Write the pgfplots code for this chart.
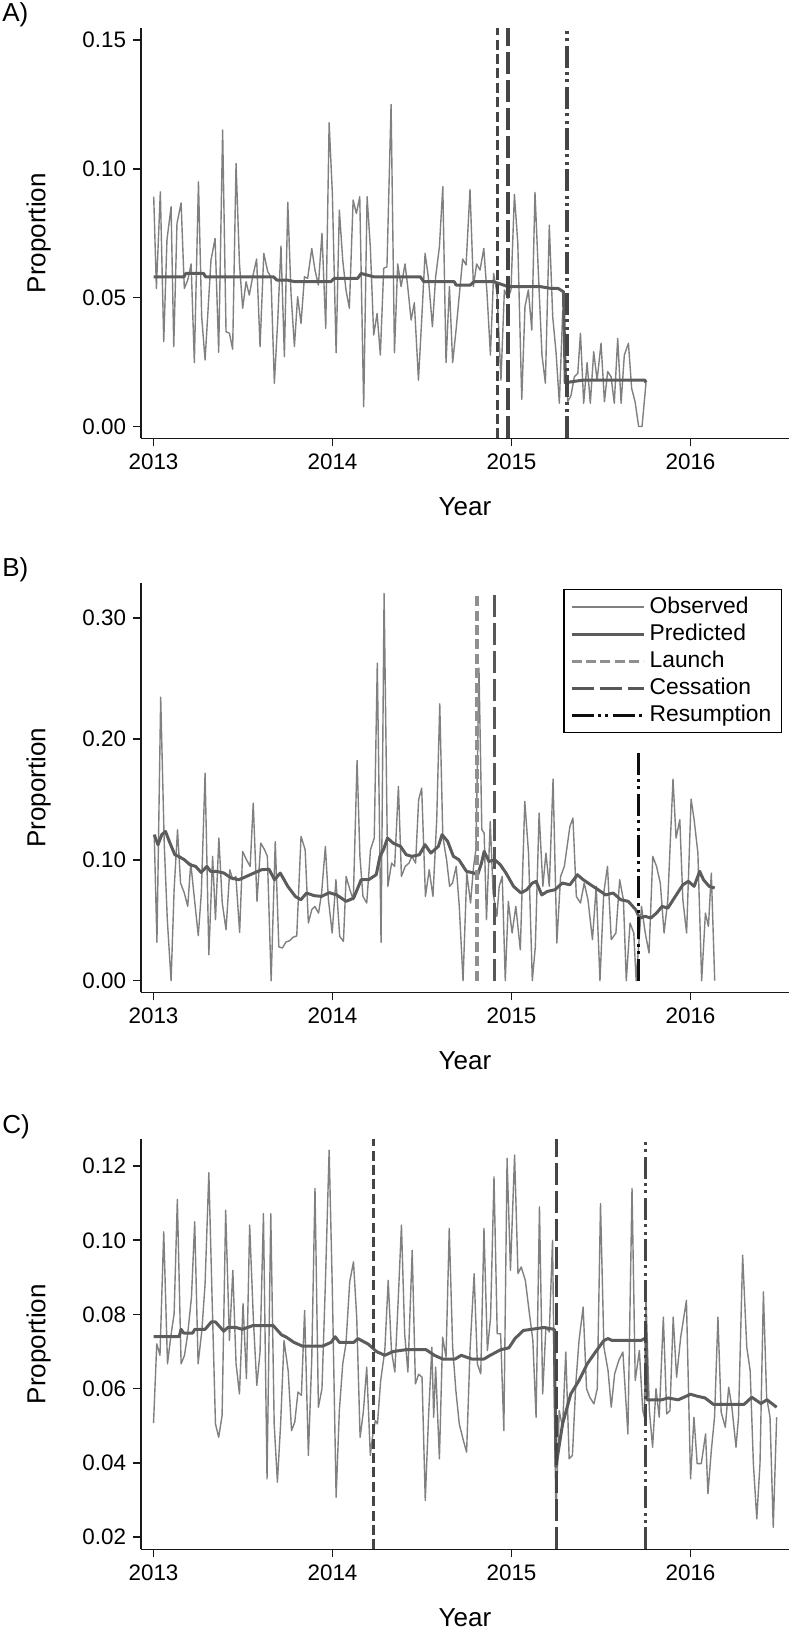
\documentclass[border=0pt]{standalone}
\usepackage{fontspec}
\setmainfont{Liberation Sans}
\usepackage{pgfplots}
\usepackage{pgfplotstable}
\pgfplotsset{compat=1.18}

\definecolor{obs}{gray}{0.50}
\definecolor{pred}{gray}{0.36}
\definecolor{vline}{gray}{0.27}
\definecolor{launchB}{gray}{0.56}
\definecolor{cessB}{gray}{0.34}
\definecolor{resB}{gray}{0.05}

\pgfplotsset{
 panel/.style={
  scale only axis, width=324pt,
  xmin=2012.930, xmax=2016.550,
  axis lines*=left,
  axis line style={line width=0.8pt, black!90},
  tick align=outside, major tick length=4pt,
  tick style={line width=0.8pt, black!90},
  xtick={2013,2014,2015,2016}, xticklabels={2013,2014,2015,2016},
  /pgf/number format/assume math mode=true,
  yticklabel style={/pgf/number format/.cd, fixed, fixed zerofill, precision=2},
  ticklabel style={font=\fontsize{11.2}{13}\selectfont},
  xlabel={Year}, ylabel={Proportion},
  every axis x label/.style={at={(axis description cs:0.5,0)}, anchor=center, yshift=-34pt, font=\fontsize{13}{15}\selectfont},
  every axis y label/.style={at={(axis description cs:-0.158,0.5)}, anchor=center, rotate=90, font=\fontsize{13}{15}\selectfont},
  legend image code/.code={\draw[#1] (0pt,0pt) -- (36pt,0pt);},
 },
 obsstyle/.style={color=obs, line width=0.7pt, line join=round},
 predstyle/.style={color=pred, line width=1.5pt, line join=round},
 launchstyle/.style={line width=1.6pt, dash pattern=on 5pt off 2.2pt},
 cessstyle/.style={line width=1.6pt, dash pattern=on 11pt off 3pt},
 resstyle/.style={line width=1.6pt, dash pattern=on 11pt off 2.2pt on 1.5pt off 2.2pt on 1.5pt off 2.2pt},
}

% ---------------- Panel A ----------------
\pgfplotstableread{
x y
2013.001 0.0892
2013.016 0.0536
2013.038 0.0911
2013.057 0.0329
2013.075 0.0724
2013.098 0.0853
2013.113 0.0310
2013.131 0.0788
2013.154 0.0868
2013.172 0.0536
2013.191 0.0568
2013.210 0.0631
2013.228 0.0248
2013.251 0.0950
2013.269 0.0426
2013.288 0.0258
2013.321 0.0646
2013.344 0.0730
2013.364 0.0288
2013.386 0.1151
2013.405 0.0368
2013.424 0.0362
2013.442 0.0300
2013.461 0.1021
2013.480 0.0633
2013.498 0.0459
2013.517 0.0562
2013.535 0.0510
2013.554 0.0581
2013.576 0.0650
2013.595 0.0310
2013.616 0.0672
2013.638 0.0601
2013.656 0.0581
2013.675 0.0168
2013.694 0.0413
2013.712 0.0700
2013.731 0.0271
2013.750 0.0870
2013.768 0.0517
2013.787 0.0310
2013.805 0.0504
2013.824 0.0400
2013.843 0.0581
2013.861 0.0575
2013.884 0.0691
2013.902 0.0607
2013.921 0.0549
2013.941 0.0750
2013.962 0.0381
2013.981 0.1179
2013.999 0.0905
2014.020 0.0286
2014.038 0.0840
2014.057 0.0646
2014.075 0.0530
2014.094 0.0459
2014.115 0.0879
2014.133 0.0827
2014.152 0.0892
2014.174 0.0077
2014.193 0.0892
2014.211 0.0698
2014.230 0.0355
2014.249 0.0439
2014.267 0.0277
2014.286 0.0614
2014.304 0.0620
2014.327 0.1250
2014.346 0.0286
2014.364 0.0631
2014.383 0.0543
2014.405 0.0631
2014.420 0.0543
2014.439 0.0413
2014.457 0.0480
2014.480 0.0180
2014.498 0.0413
2014.517 0.0672
2014.535 0.0581
2014.558 0.0387
2014.576 0.0581
2014.597 0.0698
2014.616 0.0931
2014.634 0.0248
2014.653 0.0543
2014.671 0.0248
2014.690 0.0374
2014.709 0.0517
2014.727 0.0650
2014.746 0.0627
2014.768 0.0920
2014.787 0.0543
2014.805 0.0631
2014.824 0.0607
2014.845 0.0691
2014.863 0.0517
2014.882 0.0277
2014.900 0.0594
2014.919 0.0517
2014.941 0.0180
2014.960 0.0530
2014.979 0.0497
2014.997 0.0530
2015.016 0.0901
2015.035 0.0711
2015.057 0.0105
2015.075 0.0465
2015.094 0.0530
2015.113 0.0374
2015.131 0.0909
2015.150 0.0594
2015.170 0.0277
2015.189 0.0168
2015.211 0.0782
2015.230 0.0426
2015.249 0.0284
2015.267 0.0090
2015.286 0.0450
2015.314 0.0096
2015.332 0.0120
2015.351 0.0193
2015.370 0.0206
2015.385 0.0362
2015.403 0.0090
2015.422 0.0248
2015.440 0.0090
2015.459 0.0290
2015.478 0.0180
2015.500 0.0323
2015.519 0.0096
2015.537 0.0213
2015.556 0.0193
2015.574 0.0090
2015.593 0.0342
2015.612 0.0090
2015.630 0.0277
2015.653 0.0323
2015.671 0.0148
2015.690 0.0096
2015.710 0.0000
2015.729 0.0000
2015.751 0.0168
}\obsA

\pgfplotstableread{
x y
2013.000 0.0581
2013.170 0.0581
2013.180 0.0594
2013.280 0.0594
2013.290 0.0581
2013.670 0.0581
2013.690 0.0568
2013.750 0.0568
2013.790 0.0562
2013.990 0.0562
2014.010 0.0575
2014.140 0.0575
2014.160 0.0594
2014.230 0.0581
2014.490 0.0581
2014.510 0.0562
2014.680 0.0562
2014.690 0.0549
2014.770 0.0549
2014.790 0.0562
2014.900 0.0562
2014.980 0.0543
2015.160 0.0543
2015.220 0.0536
2015.260 0.0536
2015.290 0.0523
2015.300 0.0170
2015.400 0.0180
2015.745 0.0180
2015.751 0.0170
}\predA

% ---------------- Panel B ----------------
\pgfplotstableread{
x y
2013.004 0.1207
2013.019 0.0317
2013.040 0.2344
2013.060 0.1124
2013.077 0.0504
2013.098 0.0000
2013.115 0.0752
2013.134 0.1248
2013.151 0.0807
2013.172 0.0725
2013.191 0.0614
2013.208 0.0972
2013.229 0.0669
2013.250 0.0372
2013.267 0.0725
2013.288 0.1716
2013.309 0.0215
2013.330 0.1028
2013.346 0.0504
2013.365 0.1179
2013.384 0.0642
2013.405 0.0421
2013.426 0.0917
2013.443 0.0835
2013.460 0.0862
2013.481 0.0399
2013.498 0.1069
2013.519 0.1000
2013.540 0.0945
2013.557 0.1468
2013.578 0.0656
2013.599 0.1138
2013.620 0.1083
2013.636 0.1028
2013.657 0.0000
2013.680 0.1150
2013.700 0.0280
2013.720 0.0270
2013.740 0.0320
2013.760 0.0330
2013.780 0.0360
2013.800 0.0370
2013.824 0.1193
2013.847 0.1083
2013.865 0.0477
2013.884 0.0587
2013.901 0.0614
2013.922 0.0559
2013.939 0.0725
2013.960 0.1110
2013.977 0.0669
2013.998 0.0394
2014.019 0.0835
2014.040 0.0366
2014.061 0.0325
2014.076 0.0862
2014.097 0.0752
2014.116 0.0669
2014.137 0.1821
2014.153 0.1028
2014.170 0.0697
2014.191 0.0642
2014.212 0.1083
2014.233 0.1179
2014.250 0.2626
2014.271 0.0317
2014.288 0.3200
2014.309 0.0780
2014.330 0.0972
2014.347 0.0945
2014.368 0.1606
2014.385 0.0862
2014.406 0.0945
2014.427 0.0972
2014.443 0.1028
2014.464 0.0972
2014.481 0.1496
2014.498 0.1592
2014.519 0.0697
2014.540 0.0917
2014.561 0.0697
2014.582 0.1331
2014.599 0.2289
2014.616 0.1193
2014.637 0.1000
2014.654 0.0780
2014.670 0.0807
2014.691 0.0945
2014.708 0.0614
2014.729 0.0000
2014.750 0.0890
2014.771 0.0642
2014.788 0.0945
2014.801 0.1083
2014.818 0.2584
2014.834 0.1248
2014.847 0.1220
2014.860 0.0504
2014.881 0.1317
2014.897 0.0725
2014.918 0.0532
2014.931 0.0780
2014.948 0.0862
2014.965 0.0000
2014.982 0.0656
2015.003 0.0394
2015.024 0.0614
2015.049 0.0256
2015.074 0.1482
2015.095 0.1055
2015.116 0.0000
2015.133 0.0284
2015.154 0.1386
2015.175 0.0780
2015.192 0.1055
2015.211 0.0780
2015.232 0.1667
2015.253 0.0311
2015.274 0.0862
2015.295 0.0945
2015.326 0.1275
2015.343 0.1344
2015.362 0.0697
2015.385 0.0642
2015.406 0.0807
2015.427 0.0669
2015.452 0.0339
2015.473 0.0780
2015.494 0.0000
2015.515 0.0725
2015.536 0.0945
2015.557 0.0339
2015.583 0.0394
2015.604 0.0835
2015.625 0.0669
2015.641 0.0000
2015.662 0.0477
2015.683 0.0394
2015.696 0.0000
2015.726 0.0614
2015.747 0.0394
2015.768 0.0229
2015.789 0.1028
2015.810 0.0945
2015.831 0.0807
2015.852 0.0394
2015.873 0.0669
2015.902 0.1667
2015.919 0.1179
2015.940 0.1331
2015.957 0.0669
2015.978 0.0394
2016.003 0.1501
2016.020 0.1331
2016.041 0.1055
2016.062 0.0000
2016.083 0.0559
2016.100 0.0449
2016.116 0.0890
2016.135 0.0000
}\obsB

\pgfplotstableread{
x y
2013.004 0.1207
2013.025 0.1124
2013.046 0.1207
2013.067 0.1234
2013.088 0.1152
2013.119 0.1041
2013.140 0.1028
2013.172 0.1000
2013.203 0.0959
2013.235 0.0945
2013.266 0.0895
2013.298 0.0945
2013.319 0.0904
2013.351 0.0904
2013.393 0.0890
2013.435 0.0848
2013.477 0.0835
2013.519 0.0862
2013.561 0.0890
2013.603 0.0917
2013.645 0.0922
2013.676 0.0835
2013.708 0.0890
2013.750 0.0780
2013.792 0.0697
2013.823 0.0669
2013.855 0.0725
2013.897 0.0703
2013.939 0.0697
2013.981 0.0728
2014.023 0.0709
2014.076 0.0656
2014.118 0.0683
2014.160 0.0835
2014.202 0.0835
2014.244 0.0876
2014.265 0.1028
2014.286 0.1088
2014.307 0.1179
2014.338 0.1138
2014.380 0.1110
2014.412 0.1041
2014.443 0.1028
2014.485 0.1041
2014.517 0.1124
2014.549 0.1055
2014.591 0.1110
2014.612 0.1207
2014.643 0.1152
2014.675 0.1028
2014.706 0.1000
2014.748 0.0904
2014.790 0.0890
2014.811 0.0876
2014.832 0.0972
2014.847 0.1069
2014.874 0.0986
2014.906 0.1000
2014.937 0.0959
2014.969 0.0890
2015.011 0.0780
2015.053 0.0725
2015.085 0.0752
2015.116 0.0807
2015.137 0.0821
2015.169 0.0709
2015.200 0.0738
2015.242 0.0752
2015.284 0.0807
2015.326 0.0793
2015.368 0.0876
2015.400 0.0835
2015.442 0.0793
2015.484 0.0752
2015.526 0.0709
2015.568 0.0725
2015.610 0.0669
2015.652 0.0656
2015.694 0.0587
2015.715 0.0518
2015.747 0.0532
2015.778 0.0518
2015.810 0.0559
2015.841 0.0614
2015.873 0.0600
2015.915 0.0697
2015.957 0.0793
2015.988 0.0821
2016.020 0.0780
2016.051 0.0904
2016.072 0.0835
2016.104 0.0780
2016.135 0.0766
}\predB

% ---------------- Panel C ----------------
\pgfplotstableread{
x y
2013.000 0.0507
2013.018 0.0721
2013.036 0.0690
2013.057 0.1023
2013.078 0.0667
2013.096 0.0739
2013.115 0.0802
2013.133 0.1110
2013.154 0.0667
2013.173 0.0690
2013.191 0.0748
2013.212 0.0847
2013.230 0.1050
2013.249 0.0667
2013.270 0.0757
2013.288 0.0883
2013.309 0.1182
2013.327 0.0847
2013.346 0.0505
2013.364 0.0469
2013.383 0.0528
2013.403 0.1081
2013.424 0.0730
2013.443 0.0919
2013.461 0.0667
2013.480 0.0586
2013.500 0.0829
2013.519 0.0627
2013.537 0.1041
2013.558 0.0784
2013.577 0.0609
2013.595 0.0699
2013.614 0.1072
2013.634 0.0357
2013.655 0.1072
2013.674 0.0505
2013.692 0.0348
2013.710 0.0505
2013.729 0.0730
2013.752 0.0649
2013.771 0.0487
2013.789 0.0510
2013.807 0.0591
2013.826 0.0582
2013.844 0.0811
2013.865 0.0420
2013.884 0.0681
2013.902 0.1140
2013.921 0.0550
2013.941 0.0600
2013.960 0.0883
2013.981 0.1243
2013.999 0.0865
2014.020 0.0307
2014.038 0.0541
2014.057 0.0667
2014.075 0.0721
2014.096 0.0888
2014.117 0.0942
2014.135 0.0793
2014.154 0.0469
2014.172 0.0537
2014.191 0.0658
2014.211 0.0420
2014.223 0.0469
2014.239 0.0514
2014.251 0.0505
2014.269 0.0622
2014.292 0.0703
2014.311 0.0892
2014.329 0.0703
2014.348 0.0645
2014.366 0.0829
2014.385 0.1041
2014.403 0.0748
2014.421 0.0645
2014.445 0.0973
2014.463 0.0613
2014.481 0.0639
2014.500 0.0631
2014.518 0.0299
2014.537 0.0532
2014.555 0.0712
2014.565 0.0523
2014.576 0.0658
2014.597 0.0411
2014.615 0.0739
2014.634 0.0685
2014.652 0.1032
2014.671 0.0712
2014.689 0.0595
2014.708 0.0505
2014.731 0.0460
2014.749 0.0429
2014.768 0.0703
2014.791 0.0910
2014.809 0.0667
2014.828 0.0640
2014.846 0.1032
2014.865 0.0703
2014.883 0.0793
2014.902 0.1171
2014.920 0.0748
2014.939 0.0748
2014.957 0.0487
2014.975 0.1221
2014.994 0.0919
2015.017 0.1230
2015.036 0.0910
2015.054 0.0928
2015.077 0.0892
2015.100 0.0802
2015.119 0.0730
2015.137 0.0523
2015.156 0.1090
2015.174 0.0586
2015.192 0.0766
2015.211 0.0753
2015.229 0.1000
2015.248 0.0250
2015.266 0.0541
2015.285 0.0496
2015.303 0.0699
2015.322 0.0411
2015.340 0.0420
2015.359 0.0613
2015.377 0.0730
2015.400 0.0820
2015.419 0.0600
2015.437 0.0577
2015.460 0.0559
2015.479 0.0600
2015.497 0.1099
2015.516 0.0712
2015.539 0.0649
2015.557 0.0550
2015.576 0.0640
2015.599 0.0676
2015.622 0.0699
2015.650 0.0478
2015.673 0.1140
2015.691 0.0622
2015.714 0.0703
2015.733 0.0541
2015.742 0.0523
2015.751 0.0847
2015.770 0.0541
2015.788 0.0442
2015.807 0.0600
2015.825 0.0523
2015.848 0.0793
2015.867 0.0532
2015.885 0.0541
2015.903 0.0793
2015.922 0.0631
2015.945 0.0739
2015.977 0.0838
2016.000 0.0357
2016.019 0.0523
2016.037 0.0398
2016.060 0.0398
2016.084 0.0478
2016.097 0.0317
2016.116 0.0433
2016.134 0.0523
2016.153 0.0793
2016.171 0.0537
2016.194 0.0496
2016.213 0.0604
2016.231 0.0550
2016.254 0.0442
2016.268 0.0523
2016.291 0.0960
2016.314 0.0712
2016.333 0.0649
2016.351 0.0398
2016.370 0.0249
2016.388 0.0398
2016.407 0.0861
2016.425 0.0577
2016.444 0.0523
2016.462 0.0226
2016.481 0.0523
}\obsC

\pgfplotstableread{
x y
2013.000 0.0740
2013.143 0.0740
2013.154 0.0760
2013.168 0.0750
2013.219 0.0750
2013.230 0.0760
2013.288 0.0760
2013.323 0.0780
2013.346 0.0780
2013.392 0.0755
2013.415 0.0765
2013.461 0.0765
2013.496 0.0760
2013.554 0.0770
2013.669 0.0770
2013.715 0.0745
2013.738 0.0740
2013.784 0.0725
2013.830 0.0715
2013.946 0.0715
2013.992 0.0725
2014.015 0.0740
2014.038 0.0725
2014.119 0.0725
2014.142 0.0735
2014.200 0.0720
2014.246 0.0700
2014.292 0.0690
2014.338 0.0700
2014.408 0.0705
2014.523 0.0705
2014.569 0.0690
2014.615 0.0680
2014.685 0.0680
2014.719 0.0690
2014.777 0.0680
2014.846 0.0680
2014.881 0.0690
2014.939 0.0705
2014.985 0.0710
2015.019 0.0735
2015.066 0.0757
2015.112 0.0760
2015.181 0.0765
2015.239 0.0760
2015.248 0.0390
2015.285 0.0505
2015.331 0.0586
2015.377 0.0622
2015.423 0.0667
2015.469 0.0699
2015.516 0.0730
2015.539 0.0735
2015.562 0.0730
2015.724 0.0730
2015.742 0.0735
2015.751 0.0735
2015.756 0.0570
2015.839 0.0570
2015.874 0.0575
2015.931 0.0570
2016.000 0.0585
2016.035 0.0580
2016.081 0.0575
2016.127 0.0558
2016.300 0.0558
2016.342 0.0577
2016.393 0.0560
2016.427 0.0570
2016.481 0.0550
}\predC

\begin{document}
\begin{tikzpicture}
\useasboundingbox (0,0) rectangle (394.5pt,-816pt);

% ---------- A ----------
\begin{axis}[panel, at={(70.5pt,-14pt)}, anchor=north west, height=205.15pt,
  ymin=-0.0046, ymax=0.1547, ytick={0,0.05,0.10,0.15}]
\addplot[obsstyle] table[x=x,y=y] {\obsA};
\addplot[predstyle] table[x=x,y=y] {\predA};
\addplot[launchstyle, color=vline] coordinates {(2014.921,-0.0046) (2014.921,0.1547)};
\addplot[cessstyle, color=vline] coordinates {(2014.980,-0.0046) (2014.980,0.1547)};
\addplot[resstyle, color=vline] coordinates {(2015.310,-0.0046) (2015.310,0.1547)};
\end{axis}
\node[anchor=west, inner sep=0pt, font=\fontsize{13}{15}\selectfont] at (1pt,-7.5pt) {A)};

% ---------- B ----------
\begin{axis}[panel, at={(70.5pt,-291.35pt)}, anchor=north west, height=204.8pt,
  ymin=-0.0096, ymax=0.329, ytick={0,0.1,0.2,0.3},
  legend cell align=left,
  legend style={at={(axis description cs:0.9897,0.9846)}, anchor=north east,
    draw=black, fill=white, line width=0.6pt,
    font=\fontsize{11.4}{13.5}\selectfont,
    inner xsep=3pt, inner ysep=2pt, row sep=0pt,
    nodes={inner xsep=2.2pt, inner ysep=1pt, text height=8.8pt, text depth=2.7pt}}]
\addplot[obsstyle] table[x=x,y=y] {\obsB};
\addlegendentry{Observed}
\addplot[predstyle] table[x=x,y=y] {\predB};
\addlegendentry{Predicted}
\addplot[launchstyle, color=launchB] coordinates {(2014.807,0) (2014.807,0.320)};
\addlegendentry{Launch}
\addplot[cessstyle, color=cessB] coordinates {(2014.904,0) (2014.904,0.320)};
\addlegendentry{Cessation}
\addplot[resstyle, color=resB] coordinates {(2015.708,0) (2015.708,0.189)};
\addlegendentry{Resumption}
\end{axis}
\node[anchor=west, inner sep=0pt, font=\fontsize{13}{15}\selectfont] at (1pt,-285pt) {B)};

% ---------- C ----------
\begin{axis}[panel, at={(70.5pt,-569.5pt)}, anchor=north west, height=205.15pt,
  ymin=0.0167, ymax=0.1273, ytick={0.02,0.04,0.06,0.08,0.10,0.12}]
\addplot[obsstyle] table[x=x,y=y] {\obsC};
\addplot[predstyle] table[x=x,y=y] {\predC};
\addplot[launchstyle, color=vline] coordinates {(2014.228,0.0167) (2014.228,0.1273)};
\addplot[cessstyle, color=vline] coordinates {(2015.249,0.0167) (2015.249,0.1273)};
\addplot[resstyle, color=vline] coordinates {(2015.750,0.0167) (2015.750,0.1273)};
\end{axis}
\node[anchor=west, inner sep=0pt, font=\fontsize{13}{15}\selectfont] at (1pt,-563.5pt) {C)};

\end{tikzpicture}
\end{document}
